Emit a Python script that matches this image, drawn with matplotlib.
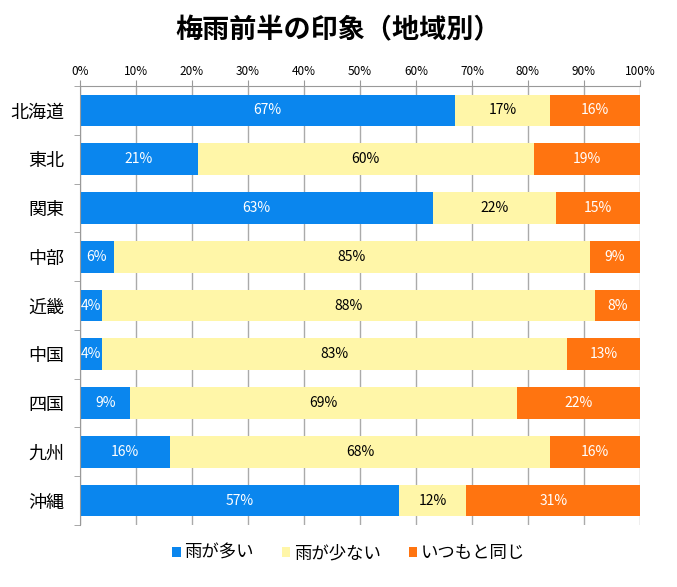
import numpy as np
import matplotlib.pyplot as plt
from matplotlib.ticker import FixedLocator, PercentFormatter

plt.rcParams['font.family'] = ['Noto Sans CJK JP', 'DejaVu Sans']

regions = ['北海道', '東北', '関東', '中部', '近畿', '中国', '四国', '九州', '沖縄']
more_rain = [67, 21, 63, 6, 4, 4, 9, 16, 57]
less_rain = [17, 60, 22, 85, 88, 83, 69, 68, 12]
same = [16, 19, 15, 9, 8, 13, 22, 16, 31]
series_names = ['雨が多い', '雨が少ない', 'いつもと同じ']
colors = ['#0A86EE', '#FFF6A8', '#FF7410']
text_colors = ['white', 'black', 'white']

fig = plt.figure(figsize=(6.77, 5.87), dpi=100)
ax = fig.add_axes([80/677, 1-525/587, 560/677, 439/587])

y = np.arange(len(regions))
left = np.zeros(len(regions))
for vals, name, c, tc in zip([more_rain, less_rain, same], series_names, colors, text_colors):
    vals = np.array(vals)
    bars = ax.barh(y, vals, left=left, height=0.65, color=c, label=name, zorder=2)
    for b, v in zip(bars, vals):
        ax.text(b.get_x() + b.get_width()/2, b.get_y() + b.get_height()/2, f'{v}%',
                ha='center', va='center', color=tc, fontsize=10, zorder=3)
    left += vals

ax.set_xlim(0, 100)
ax.set_ylim(len(regions) - 0.5, -0.5)
ax.xaxis.tick_top()
ax.set_xticks(np.arange(0, 101, 10))
ax.xaxis.set_major_formatter(PercentFormatter(decimals=0))
ax.tick_params(axis='x', length=4, color='#999999', labelsize=8.5, pad=2)
ax.grid(axis='x', color='#AAAAAA', linewidth=1, zorder=0)

ax.set_yticks(y)
ax.set_yticklabels(regions, fontsize=13)
ax.yaxis.set_minor_locator(FixedLocator(np.arange(-0.5, len(regions), 1)))
ax.tick_params(axis='y', which='major', length=0, pad=11)
ax.tick_params(axis='y', which='minor', length=4, color='#999999')

for s in ['right', 'bottom']:
    ax.spines[s].set_visible(False)
for s in ['left', 'top']:
    ax.spines[s].set_color('#999999')

fig.text(0.5, 1-30/587, '梅雨前半の印象（地域別）', fontsize=19.5, fontweight='bold',
         ha='center', va='center')
fig.legend(loc='center', bbox_to_anchor=(0.515, 1-553/587), ncol=3, frameon=False,
           fontsize=12.5, handlelength=0.5, handleheight=0.5, handletextpad=0.2,
           columnspacing=1.6)

fig.savefig('out.png', dpi=100)
